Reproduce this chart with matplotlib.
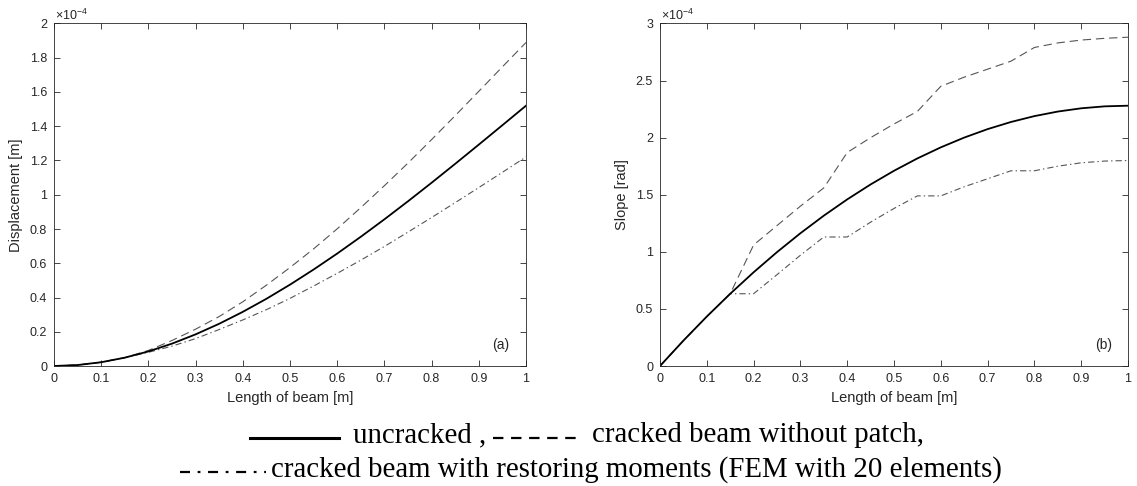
import numpy as np
import matplotlib.pyplot as plt
from matplotlib.lines import Line2D
from matplotlib.ticker import FuncFormatter

plt.rcParams['font.family'] = ['Liberation Sans', 'DejaVu Sans']
plt.rcParams['mathtext.fontset'] = 'custom'
plt.rcParams['mathtext.rm'] = 'Liberation Sans'
plt.rcParams['lines.scale_dashes'] = False

# positions along the beam (FEM nodes, 20 elements)
x = [0.0, 0.05, 0.1, 0.15, 0.2, 0.25, 0.3, 0.35, 0.4, 0.45, 0.5,
     0.55, 0.6, 0.65, 0.7, 0.75, 0.8, 0.85, 0.9, 0.95, 1.0]

# displacement, units of 1e-4 m
disp_uncracked = [0, 0.0056, 0.022, 0.0487, 0.0851, 0.1306, 0.1847, 0.2467, 0.3162, 0.3924, 0.475,
                  0.5633, 0.6566, 0.7546, 0.8565, 0.9619, 1.0701, 1.1806, 1.2928, 1.4061, 1.52]
disp_cracked = [0, 0.0056, 0.022, 0.0487, 0.091, 0.149, 0.215, 0.289, 0.375, 0.472, 0.575,
                0.684, 0.801, 0.925, 1.053, 1.185, 1.322, 1.462, 1.604, 1.747, 1.889]
disp_restored = [0, 0.0056, 0.022, 0.0487, 0.080, 0.116, 0.160, 0.213, 0.269, 0.329, 0.395,
                 0.467, 0.541, 0.618, 0.698, 0.782, 0.867, 0.954, 1.042, 1.131, 1.221]

# slope, units of 1e-4 rad
slope_uncracked = [0, 0.2223, 0.4332, 0.6327, 0.8208, 0.9975, 1.1628, 1.3167, 1.4592, 1.5903, 1.71,
                   1.8183, 1.9152, 2.0007, 2.0748, 2.1375, 2.1888, 2.2287, 2.2572, 2.2743, 2.28]
slope_cracked = [0, 0.2223, 0.4332, 0.6327, 1.06, 1.23, 1.40, 1.56, 1.87, 2.00, 2.12,
                 2.23, 2.45, 2.53, 2.60, 2.67, 2.79, 2.83, 2.855, 2.87, 2.88]
slope_restored = [0, 0.2223, 0.4332, 0.633, 0.633, 0.80, 0.97, 1.13, 1.13, 1.26, 1.38,
                  1.49, 1.49, 1.57, 1.64, 1.71, 1.71, 1.75, 1.78, 1.795, 1.80]

W, H = 1137, 486
fig = plt.figure(figsize=(W / 100, H / 100), dpi=100)
ax1 = fig.add_axes([54 / W, 120 / H, 472 / W, 342.5 / H])
ax2 = fig.add_axes([660 / W, 120 / H, 468 / W, 342.5 / H])

grey = '#262626'


def setup(ax, ymax, ystep, ylabel, tag):
    ax.set_xlim(0, 1)
    ax.set_ylim(0, ymax)
    ax.set_xticks(np.linspace(0, 1, 11))
    ax.set_yticks(np.arange(0, ymax + ystep / 2, ystep))
    fmt = FuncFormatter(lambda v, p: f'{round(v, 3):g}')
    ax.xaxis.set_major_formatter(fmt)
    ax.yaxis.set_major_formatter(fmt)
    ax.tick_params(direction='in', top=True, right=True, length=4, width=0.6,
                   colors=grey, labelsize=9, pad=5)
    for s in ax.spines.values():
        s.set_color(grey)
        s.set_linewidth(0.6)
    ax.set_xlabel('Length of beam [m]', fontsize=10.5, color=grey)
    ax.xaxis.set_label_coords(0.5, -0.093)
    ax.xaxis.label.set_va('center')
    ax.set_ylabel(ylabel, fontsize=10.5, color=grey)
    ax.yaxis.set_label_coords(-0.081, 0.5)
    ax.yaxis.label.set_va('center')
    ax.text(0.003, 1.01, r'$\times10^{-4}$', transform=ax.transAxes,
            fontsize=9, color=grey, va='baseline')
    ax.text(0.947, 0.06, tag, transform=ax.transAxes, fontsize=10,
            color=grey, ha='center', va='center')


def curves(ax, solid, dashed, dashdot):
    ax.plot(x, dashed, color='#555555', lw=0.8, dashes=(6, 3.5))
    ax.plot(x, dashdot, color='#555555', lw=0.8, dashes=(4.5, 2.2, 1, 2.2))
    ax.plot(x, solid, color='black', lw=1.3)


curves(ax1, disp_uncracked, disp_cracked, disp_restored)
setup(ax1, 2, 0.2, 'Displacement [m]', '(a)')
curves(ax2, slope_uncracked, slope_cracked, slope_restored)
setup(ax2, 3, 0.5, 'Slope [rad]', '(b)')

# caption with line samples
serif = ['Liberation Serif', 'DejaVu Serif']
y1, y2 = 1 - 438 / H, 1 - 472 / H
fig.add_artist(Line2D([250 / W, 339 / W], [y1, y1], color='black', lw=2.2))
fig.add_artist(Line2D([493 / W, 577 / W], [y1, y1], color='black', lw=1.6,
                      dashes=(7.5, 5.5)))
fig.add_artist(Line2D([180 / W, 266 / W], [y2, y2], color='black', lw=1.6,
                      dashes=(7.2, 5.5, 2, 5.5)))
fig.text(352.7 / W, 1 - 442 / H, 'uncracked ,', family=serif, fontsize=20.8,
         va='baseline')
fig.text(591.7 / W, 1 - 442 / H, 'cracked beam without patch,', family=serif,
         fontsize=20.8, va='baseline')
fig.text(271 / W, 1 - 476.5 / H,
         'cracked beam with restoring moments (FEM with 20 elements)',
         family=serif, fontsize=20.8, va='baseline')

fig.savefig('out.png', dpi=100)
